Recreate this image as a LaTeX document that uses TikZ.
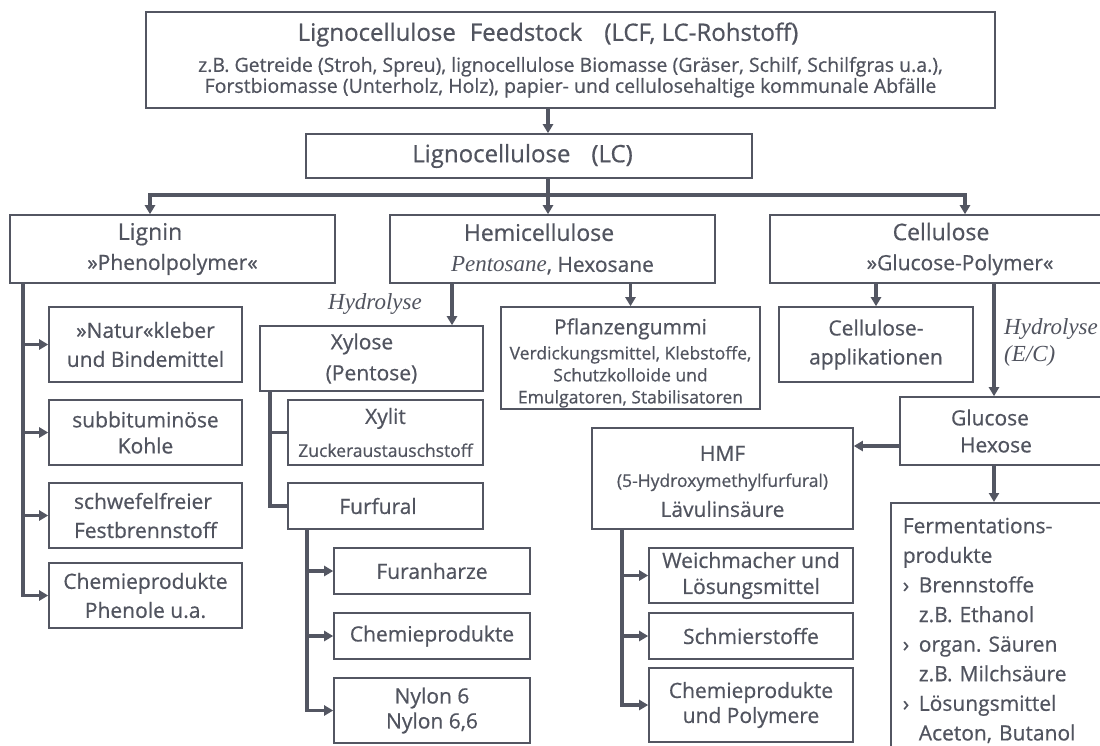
\documentclass[tikz,border=0pt]{standalone}
\usepackage{fontspec}
\setmainfont{Open Sans}[RawFeature={embolden=0.6}]
\newfontfamily\hyfont{Liberation Serif}
\usetikzlibrary{arrows.meta}
\frenchspacing

\definecolor{ink}{HTML}{51545F}
\definecolor{rule}{HTML}{535662}
\newcommand\toptx{\fontsize{23}{29}\selectfont}
\newcommand\bigtx{\fontsize{21}{29}\selectfont}
\newcommand\smalltx{\fontsize{17.5}{22}\selectfont}
\newcommand\hytx{\fontsize{23}{27}\selectfont\hyfont\itshape}

\tikzstyle{box}=[draw=rule,line width=1.6pt,inner sep=0pt,text=ink,align=center,font=\bigtx]
\tikzstyle{link}=[draw=rule,line width=3.6pt]
\tikzstyle{arr}=[link,-{Triangle[length=9pt,width=10pt]}]
\tikzstyle{lbl}=[text=ink,inner sep=0pt,font=\hytx]

\begin{document}
\begin{tikzpicture}[x=1pt,y=-1pt]
\path[use as bounding box,fill=white] (0,0) rectangle (1100,745);
%\draw[help lines,step=50] (0,0) grid (1100,745);
\node[box,minimum width=849,minimum height=96] (lcf) at (570.5,60)
  {{\fontsize{24}{29}\selectfont Lignocellulose\hspace{14pt}Feedstock\hspace{22pt}(LCF, LC-Rohstoff)}\hspace*{45pt}\\[2pt]
   {\fontsize{19.5}{21}\selectfont z.B. Getreide (Stroh, Spreu), lignocellulose Biomasse (Gräser, Schilf, Schilfgras u.a.),}\\[-8pt]
   {\fontsize{19.5}{21}\selectfont Forstbiomasse (Unterholz, Holz), papier- und cellulosehaltige kommunale Abfälle}};
\node[box,minimum width=446,minimum height=44,font=\fontsize{24}{29}\selectfont] (lc) at (529,156)
  {Lignocellulose\hspace{21pt}(LC)\hspace*{13pt}};

% Lignin, Hemicellulose, Cellulose
\node[box,minimum width=325,minimum height=68] (lignin) at (172.5,249) {{\toptx Lignin}\hspace*{45pt}\\[1pt]»Phenolpolymer«};
\node[box,minimum width=325,minimum height=68] (hemi)   at (552.5,249) {{\toptx Hemicellulose}\hspace*{27pt}\\[2pt]{\hytx Pentosane}, Hexosane};
\node[box,minimum width=380,minimum height=68] (cell)   at (960,249)   {{\toptx Cellulose}\hspace*{38pt}\\[1pt]»Glucose-Polymer«};

\node[box,minimum width=193,minimum height=75] (natur)    at (145.5,344.5) {»Natur«kleber\\und Bindemittel};
\node[box,minimum width=193,minimum height=65] (subbit)   at (145.5,432.5) {subbituminöse\\[-3pt]Kohle};
\node[box,minimum width=193,minimum height=65,align=left] (schwefel) at (145.5,515.5) {schwefelfreier\\Festbrennstoff};
\node[box,minimum width=193,minimum height=65] (chemie1)  at (145.5,595.5) {Chemieprodukte\\Phenole u.a.};

\node[box,minimum width=223,minimum height=65] (xylose)   at (371.5,358.5) {Xylose\hspace*{19pt}\\[2pt](Pentose)};
\node[box,minimum width=195,minimum height=65] (xylit)    at (385.5,432.5) {Xylit\\[4pt]{\fontsize{17.5}{18}\selectfont Zuckeraustauschstoff}};
\node[box,minimum width=195,minimum height=46] (furfural) at (385.5,506)   {Furfural\hspace*{15pt}};
\node[box,minimum width=196,minimum height=46] (furan)    at (432,571)     {Furanharze};
\node[box,minimum width=196,minimum height=46] (chemie2)  at (432,636)     {Chemieprodukte};
\node[box,minimum width=196,minimum height=65] (nylon)    at (432,710.5)   {Nylon 6\\[-4pt]Nylon 6,6};

\node[box,minimum width=259,minimum height=102,font=\smalltx] (pflanz) at (630.5,358)
  {{\bigtx\rule{0pt}{26pt}Pflanzengummi}\\[3pt]Verdickungsmittel, Klebstoffe,\\Schutzkolloide und\\Emulgatoren, Stabilisatoren};

\node[box,minimum width=194,minimum height=75] (cellapp) at (876,344.5) {Cellulose-\\applikationen};
\node[box,minimum width=202,minimum height=68] (glucose) at (1001,431)  {Glucose\hspace*{22pt}\\[-2pt]Hexose\hspace*{10pt}};
\node[box,anchor=north west,text width=200,align=left,inner xsep=12,inner ysep=15,
      font=\fontsize{21}{29.6}\selectfont] (ferm) at (890,502)
  {Fermentations-\\produkte\\
   \makebox[16pt][l]{›}Brennstoffe\\\hspace*{16pt}z.B. Ethanol\\
   \makebox[16pt][l]{›}organ. Säuren\\\hspace*{16pt}z.B. Milchsäure\\
   \makebox[16pt][l]{›}Lösungsmittel\\\hspace*{16pt}Aceton, Butanol};

\node[box,minimum width=261,minimum height=101] (hmf) at (722.5,478.5)
  {\rule{0pt}{21pt}HMF\\[-3pt]{\smalltx (5-Hydroxymethylfurfural)}\\[1pt]Lävulinsäure};
\node[box,minimum width=204,minimum height=55] (weich)   at (751,575.5) {Weichmacher und\\[-3pt]Lösungsmittel};
\node[box,minimum width=204,minimum height=46] (schmier) at (751,636)   {Schmierstoffe};
\node[box,minimum width=204,minimum height=74] (chemie3) at (751,705)   {Chemieprodukte\\[-4pt]und Polymere};

% connectors
\coordinate (spine) at (548,195);
\coordinate (bl) at (150,195);
\coordinate (br) at (965,195);
\draw[arr] (lcf.south -| spine) -- (lc.north -| spine);
\draw[arr] (lc.south -| spine) -- (hemi.north -| spine);
\draw[arr] (spine) -| (lignin.north -| bl);
\draw[arr] (spine) -| (cell.north -| br);

\coordinate (lt) at (23,283);
\draw[arr] (lignin.south -| lt) |- (chemie1.west);
\foreach \n in {natur,subbit,schwefel}
  \draw[arr] (\n.west -| lt) -- (\n.west);

\coordinate (hx) at (452,283);
\draw[arr] (hemi.south -| hx) -- (xylose.north -| hx);
\node[lbl] (hyd1) at (375,303.5) {Hydrolyse};
\draw[arr] (hemi.south -| pflanz.north) -- (pflanz.north);

\coordinate (xt) at (270,391);
\draw[link] (xylose.south -| xt) |- (furfural.west);
\draw[link] (xylit.west -| xt) -- (xylit.west);
\coordinate (ft) at (307,529);
\draw[arr] (furfural.south -| ft) |- (nylon.west);
\foreach \n in {furan,chemie2}
  \draw[arr] (\n.west -| ft) -- (\n.west);

\draw[arr] (cell.south -| cellapp.north) -- (cellapp.north);
\coordinate (ct) at (994,283);
\draw[arr] (cell.south -| ct) -- (glucose.north -| ct);
\node[lbl,anchor=north west,align=left] (hyd2) at (1004,318) {Hydrolyse\\(E/C)};
\coordinate (gh) at (900,446);
\draw[arr] (glucose.west |- gh) -- (hmf.east |- gh);
\draw[arr] (glucose.south -| ct) -- (ferm.north -| ct);

\coordinate (ht) at (622,529);
\draw[arr] (hmf.south -| ht) |- (chemie3.west);
\foreach \n in {weich,schmier}
  \draw[arr] (\n.west -| ht) -- (\n.west);
\end{tikzpicture}
\end{document}
